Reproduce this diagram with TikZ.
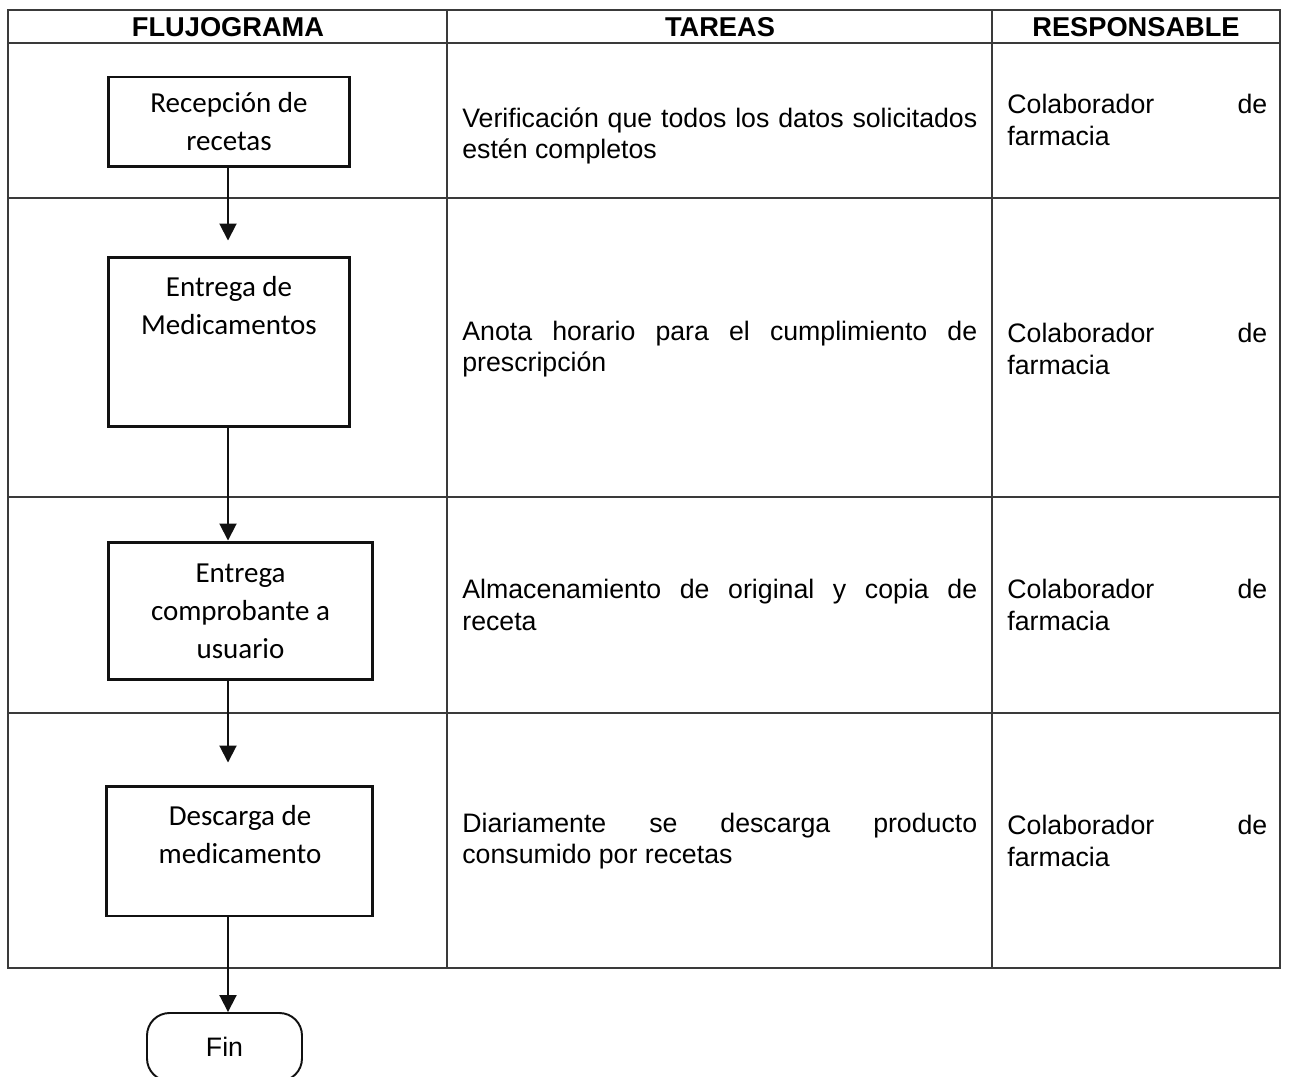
\documentclass[tikz,border=0pt]{standalone}
\usepackage{fontspec}
\usepackage{tikz}
\usetikzlibrary{arrows.meta,positioning}
\newfontfamily\calibri{Carlito}
\newfontfamily\arial{Liberation Sans}
\newcommand\flowfont{\calibri\fontsize{16.5}{21.6}\selectfont}
\newcommand\cellfont{\arial\fontsize{15.2}{17.8}\selectfont}
\newcommand\hdrfont{\arial\bfseries\fontsize{15.5}{18}\selectfont}
\definecolor{ink}{HTML}{111111}
\definecolor{rule}{HTML}{3A3A3A}
\tikzset{
  flowbox/.style={draw=ink, line width=1.7pt, align=center, font=\flowfont, inner sep=0pt},
  flowtext/.style={align=center, font=\flowfont, inner sep=0pt},
  endbox/.style={draw=ink, line width=1.1pt, rounded corners=0.45cm, minimum width=3.1cm, minimum height=1.36cm, font=\cellfont},
  task/.style={anchor=west, text width=10.3cm, align=justify, font=\cellfont, inner sep=0pt},
  resp/.style={anchor=west, text width=5.2cm, align=justify, font=\cellfont, inner sep=0pt},
  head/.style={font=\hdrfont, inner sep=0pt},
  grid/.style={draw=rule, line width=1.1pt},
  flow/.style={-{Triangle[length=3.4mm,width=3.4mm]}, line width=1.1pt, draw=ink}
}
\begin{document}
\begin{tikzpicture}[x=0.02cm,y=-0.02cm]
\clip (0,0) rectangle (1290,1077);
% table
\draw[grid] (8,10) rectangle (1280,968);
\foreach \y in {43,198,497,713}
  \draw[grid] (8,\y) -- (1280,\y);
\draw[grid] (447,10) -- (447,968);
\draw[grid] (992,10) -- (992,968);
\node[head] (hflow) at (228,27) {FLUJOGRAMA};
\node[head] (htask) at (720,27) {TAREAS};
\node[head] (hresp) at (1136,27) {RESPONSABLE};
% flow
\coordinate (spine) at (228,0);
\node[flowbox, minimum width=4.84cm, minimum height=1.8cm] (recep) at (229,122) {Recepción de\\recetas};
\node[flowbox, minimum width=4.84cm, minimum height=3.4cm] (entrega) at (229,342) {};
\node[flowtext] (entregat) at (229,306) {Entrega de\\Medicamentos};
\node[flowbox, minimum width=5.3cm, minimum height=2.76cm] (comprob) at (240.5,611) {Entrega\\comprobante a\\usuario};
\node[flowbox, minimum width=5.34cm, minimum height=2.6cm] (descarga) at (239.5,851) {};
\node[flowtext] (descargat) at (240,835) {Descarga de\\medicamento};
\node[endbox] (fin) at (224.5,1047) {Fin};
\draw[flow, shorten >=0.3cm] (recep.south -| spine) -- (entrega.north -| spine);
\draw[flow] (entrega.south -| spine) -- (comprob.north -| spine);
\draw[flow, shorten >=0.44cm] (comprob.south -| spine) -- (descarga.north -| spine);
\draw[flow] (descarga.south -| spine) -- (fin.north -| spine);
% tasks
\node[task] (t1) at (462,136) {Verificación que todos los datos solicitados\linebreak estén completos};
\node[task] (t2) at (462,349) {Anota horario para el cumplimiento de\linebreak prescripción};
\node[task] (t3) at (462,605) {Almacenamiento de original y copia de\linebreak receta};
\node[task] (t4) at (462,841) {Diariamente se descarga producto\linebreak consumido por recetas};
% responsible
\node[resp] (r1) at (1007,120) {Colaborador de\linebreak farmacia};
\node[resp] (r2) at (1007,349) {Colaborador de\linebreak farmacia};
\node[resp] (r3) at (1007,605) {Colaborador de\linebreak farmacia};
\node[resp] (r4) at (1007,841) {Colaborador de\linebreak farmacia};
\end{tikzpicture}
\end{document}
